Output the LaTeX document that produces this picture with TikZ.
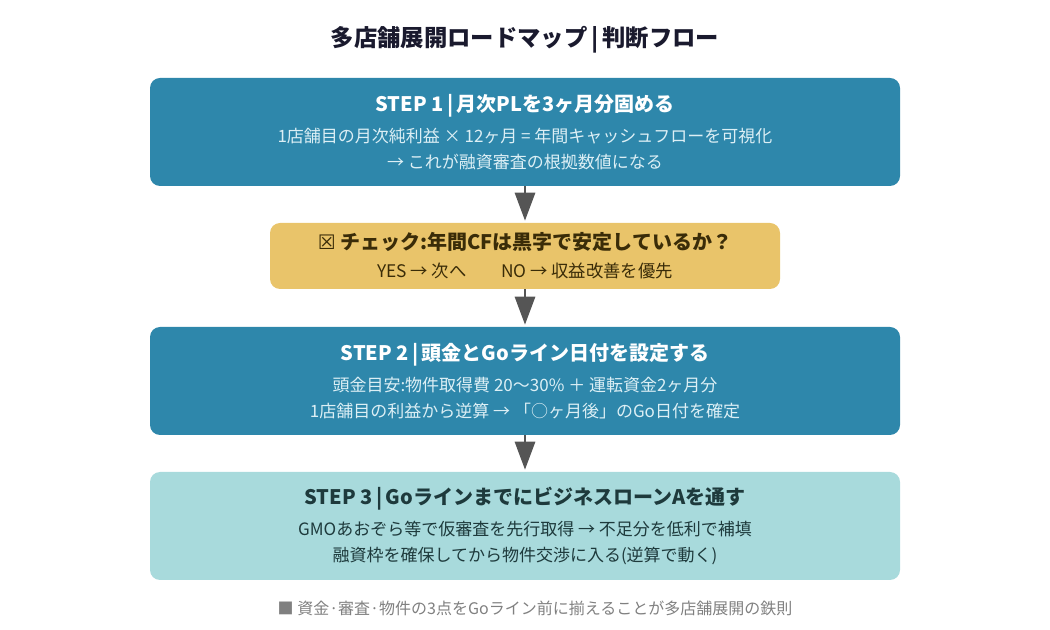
\documentclass[tikz,border=0pt]{standalone}
\usepackage{fontspec}
\setmainfont{Noto Sans CJK JP}
\newfontfamily\symfont{DejaVu Sans}
\usetikzlibrary{positioning,arrows.meta}

\definecolor{stepblue}{HTML}{2E87AB}
\definecolor{checkgold}{HTML}{E9C46A}
\definecolor{goteal}{HTML}{A8DADC}
\definecolor{titleink}{HTML}{1A1A2E}
\definecolor{bodyblue}{HTML}{DCEFF5}
\definecolor{checkink}{HTML}{3A2C08}
\definecolor{tealink}{HTML}{1E3A3C}
\definecolor{arrowgray}{HTML}{555555}
\definecolor{noteink}{HTML}{808080}

\tikzset{
  stepbox/.style={rectangle, rounded corners=7.5pt, minimum width=562.5pt,
    minimum height=81pt, align=center, inner sep=0pt,
    font=\fontsize{12.75pt}{19.5pt}\selectfont},
  checkbox/.style={stepbox, minimum width=382.5pt, minimum height=49.5pt,
    font=\fontsize{13pt}{21pt}\selectfont},
  flowarrow/.style={draw=arrowgray, line width=2.2pt,
    -{Triangle[width=15pt,length=21pt]}, shorten >=1.5pt},
}
\newcommand{\stephead}{\fontsize{15pt}{18pt}\selectfont\bfseries}
\newcommand{\sepbar}{\,|\,}

\begin{document}
\begin{tikzpicture}[x=0.75pt,y=-0.75pt]
  \useasboundingbox (0,0) rectangle (1050,630);

  % title
  \node[font=\fontsize{17.5pt}{20pt}\selectfont\bfseries, text=titleink] (title) at (525,40)
    {多店舗展開ロードマップ\sepbar 判断フロー};

  % steps
  \node[stepbox, fill=stepblue, text=bodyblue] (step1) at (525,132)
    {{\stephead\color{white}STEP 1\sepbar 月次PLを3ヶ月分固める}\\[3.75pt]
     1店舗目の月次純利益 × 12ヶ月 = 年間キャッシュフローを可視化\\
     → これが融資審査の根拠数値になる};
  \node[checkbox, fill=checkgold, text=checkink] (check) at (525,256)
    {{\stephead{\symfont ☒} チェック:年間CFは黒字で安定しているか？}\\
     YES → 次へ\hspace{2em}NO → 収益改善を優先};
  \node[stepbox, fill=stepblue, text=bodyblue] (step2) at (525,381)
    {{\stephead\color{white}STEP 2\sepbar 頭金とGoライン日付を設定する}\\[3.75pt]
     頭金目安:物件取得費 20〜30\%\ ＋\ 運転資金2ヶ月分\\
     1店舗目の利益から逆算 → 「○ヶ月後」のGo日付を確定};
  \node[stepbox, fill=goteal, text=tealink] (step3) at (525,526)
    {{\stephead STEP 3\sepbar GoラインまでにビジネスローンAを通す}\\[3.75pt]
     GMOあおぞら等で仮審査を先行取得 → 不足分を低利で補填\\
     融資枠を確保してから物件交渉に入る(逆算で動く)};

  % note
  \node[font=\fontsize{12pt}{14pt}\selectfont, text=noteink] (note) at (535,608)
    {■ 資金·審査·物件の3点をGoライン前に揃えることが多店舗展開の鉄則};

  \draw[flowarrow] (step1) -- (check);
  \draw[flowarrow] (check) -- (step2);
  \draw[flowarrow] (step2) -- (step3);
\end{tikzpicture}
\end{document}
